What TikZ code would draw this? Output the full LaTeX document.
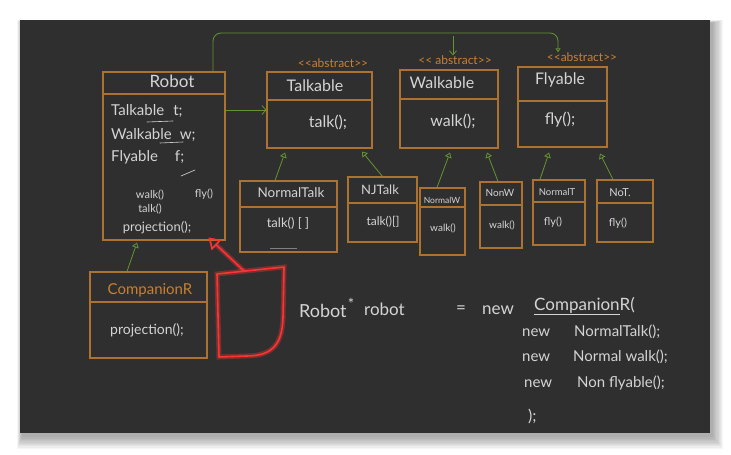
\documentclass[tikz,border=0pt]{standalone}
\usepackage{fontspec}
\setmainfont{Lato}
\usetikzlibrary{arrows.meta}
\definecolor{board}{RGB}{47,47,47}
\definecolor{boxor}{RGB}{172,114,50}
\definecolor{absor}{RGB}{200,128,52}
\definecolor{chalkw}{RGB}{212,212,212}
\definecolor{grn}{RGB}{100,148,50}
\definecolor{redc}{RGB}{255,50,50}
\newcommand{\fsz}[1]{\fontsize{#1}{#1}\selectfont}
\tikzset{
  umlbox/.style={draw=boxor, line width=1.1pt, inner sep=0pt, rectangle},
  hdr/.style={draw=boxor, line width=1.1pt},
  chalk/.style={text=chalkw, inner sep=0pt},
  abstr/.style={text=absor, inner sep=0pt, font=\fsz{12}},
  grnline/.style={draw=grn, line width=0.8pt},
  inh/.style={grnline, -{Triangle[open, length=5pt, width=7pt]}},
  redglow/.style={draw=redc, line width=1.6pt, line join=round, line cap=round,
     preaction={draw=redc, opacity=0.35, line width=5pt}},
  doodle/.style={draw=chalkw, line width=0.6pt, line cap=round}
}
\begin{document}
\begin{tikzpicture}[x=1pt, y=-1pt]
\useasboundingbox (0,0) rectangle (731,455);
\fill[white] (0,0) rectangle (731,455);
\foreach \i in {1,...,10}
  \fill[black, opacity=0.035] (20-\i*0.5+2, 20-\i*0.3+3) rectangle (710+\i*1.1+2, 433+\i*1.3+3);
\fill[board] (20,20) rectangle (710,433);

% ---------- boxes ----------
\node[umlbox, minimum width=122pt, minimum height=168pt] (robot) at (164,156) {};
\node[umlbox, minimum width=105pt, minimum height=76pt] (talkable) at (319.5,110) {};
\node[umlbox, minimum width=98pt, minimum height=78pt] (walkable) at (449,109) {};
\node[umlbox, minimum width=89pt, minimum height=80pt] (flyable) at (562.5,107) {};
\node[umlbox, minimum width=97pt, minimum height=71pt] (normaltalk) at (288.5,216.5) {};
\node[umlbox, minimum width=69pt, minimum height=65pt] (njtalk) at (382.5,209.5) {};
\node[umlbox, minimum width=45pt, minimum height=67pt] (normalw) at (442.5,221.5) {};
\node[umlbox, minimum width=42pt, minimum height=66pt] (nonw) at (501,215) {};
\node[umlbox, minimum width=52pt, minimum height=65pt] (normalt) at (559,212.5) {};
\node[umlbox, minimum width=56pt, minimum height=62pt] (not) at (625,211) {};
\node[umlbox, minimum width=117pt, minimum height=86pt] (companion) at (148.5,315) {};

% header lines
\draw[hdr] (robot.west |- 0,94) -- (robot.east |- 0,94);
\draw[hdr] (talkable.west |- 0,100) -- (talkable.east |- 0,100);
\draw[hdr] (walkable.west |- 0,99) -- (walkable.east |- 0,99);
\draw[hdr] (flyable.west |- 0,101) -- (flyable.east |- 0,101);
\draw[hdr] (normaltalk.west |- 0,207) -- (normaltalk.east |- 0,207);
\draw[hdr] (njtalk.west |- 0,203) -- (njtalk.east |- 0,203);
\draw[hdr] (normalw.west |- 0,207) -- (normalw.east |- 0,207);
\draw[hdr] (nonw.west |- 0,205) -- (nonw.east |- 0,205);
\draw[hdr] (normalt.west |- 0,202) -- (normalt.east |- 0,202);
\draw[hdr] (not.west |- 0,203) -- (not.east |- 0,203);
\draw[hdr] (companion.west |- 0,302) -- (companion.east |- 0,302);

% ---------- texts ----------
\node[chalk, font=\fsz{17}] (tRobot) at (172,81) {Robot};
\node[chalk, font=\fsz{15}, anchor=west] (rA1) at (111,111) {Talkable\hspace{9pt}t;};
\node[chalk, font=\fsz{15}, anchor=west] (rA2) at (111,135) {Walkable\hspace{8pt}w;};
\node[chalk, font=\fsz{15}, anchor=west] (rA3) at (111,157) {Flyable\hspace{17pt}f;};
\node[chalk, font=\fsz{11}] (rM1) at (150,195) {walk()};
\node[chalk, font=\fsz{11}] (rM2) at (204,194) {fly()};
\node[chalk, font=\fsz{11}] (rM3) at (150,209) {talk()};
\node[chalk, font=\fsz{13}] (rM4) at (157,228) {projection();};
\draw[doodle] (147,122) -- (173,121);
\draw[doodle] (160,143) -- (183,142);
\draw[doodle] (181,176) -- (195,170);

\node[abstr] (absT) at (333,63) {<{}<abstract>{}>};
\node[abstr] (absW) at (455,60) {<{}< abstract>{}>};
\node[abstr] (absF) at (582,57) {<{}<abstract>{}>};

\node[chalk, font=\fsz{16}] (tTalk) at (315,86) {Talkable};
\node[chalk, font=\fsz{16}] (mTalk) at (328,122) {talk();};
\node[chalk, font=\fsz{16}] (tWalk) at (442,83) {Walkable};
\node[chalk, font=\fsz{16}] (mWalk) at (453,121) {walk();};
\node[chalk, font=\fsz{16}] (tFly) at (560,80) {Flyable};
\node[chalk, font=\fsz{16}] (mFly) at (560,120) {fly();};

\node[chalk, font=\fsz{13.5}] (tNT) at (291,193) {NormalTalk};
\node[chalk, font=\fsz{13}] (mNT) at (288,223) {talk() [ ]};
\draw[draw=gray, line width=0.8pt] (270,248) -- (297,248);
\node[chalk, font=\fsz{13}] (tNJ) at (380,190) {NJTalk};
\node[chalk, font=\fsz{12}] (mNJ) at (383,222) {talk()[]};
\node[chalk, font=\fsz{8.5}] (tNW) at (442,200) {NormalW};
\node[chalk, font=\fsz{10}] (mNW) at (443,228) {walk()};
\node[chalk, font=\fsz{10}] (tNoW) at (500,193) {NonW};
\node[chalk, font=\fsz{10}] (mNoW) at (502,225) {walk()};
\node[chalk, font=\fsz{9.5}] (tNF) at (557,192) {NormalT};
\node[chalk, font=\fsz{11}] (mNF) at (553,222) {fly()};
\node[chalk, font=\fsz{11}] (tNoF) at (620,193) {NoT.};
\node[chalk, font=\fsz{11}] (mNoF) at (618,223) {fly()};

\node[text=absor, inner sep=0pt, font=\fsz{15}] (tComp) at (150,290) {CompanionR};
\node[chalk, font=\fsz{14}] (mComp) at (147,330) {projection();};

% ---------- connectors ----------
\draw[inh] ([xshift=-13.5pt]normaltalk.north) -- ([xshift=-34.5pt, yshift=-4pt]talkable.south);
\draw[inh] (njtalk.north) -- ([xshift=42.5pt, yshift=-3pt]talkable.south);
\draw[inh] ([xshift=-5.5pt]normalw.north) -- ([xshift=1pt, yshift=-4pt]walkable.south);
\draw[inh] ([xshift=-3pt]nonw.north) -- ([xshift=38pt, yshift=-4pt]walkable.south);
\draw[inh] ([xshift=-19pt]normalt.north) -- ([xshift=-13.5pt, yshift=-5pt]flyable.south);
\draw[inh] ([xshift=-12pt]not.north) -- ([xshift=37.5pt, yshift=-6pt]flyable.south);
\draw[inh] ([xshift=-21.5pt]companion.north) -- ([xshift=-27pt, yshift=-2pt]robot.south);

\draw[grnline, -{Straight Barb[length=4pt, width=9pt]}] (robot.east |- talkable.west) -- (talkable.west);

\coordinate (jr) at (558,33);
\coordinate (jw) at (453,36);
\draw[grnline, rounded corners=8pt, -{Triangle[open, length=4pt, width=5pt]}]
  ([xshift=49pt]robot.north) |- (jr) -- ([xshift=-24pt]absF.north);
\draw[grnline, -{Straight Barb[length=4pt, width=7pt]}] (jw) -- ([xshift=-2pt]absW.north);

% ---------- red pointer ----------
\draw[redglow] (217,274) -- (284,267) -- (283,318)
   .. controls (282,345) and (272,356) .. (246,356) -- (219,357) -- cycle;
\coordinate (ptop) at (244,271);
\draw[redglow, -{Triangle[open, length=11pt, width=14pt, line width=1.6pt]}]
  (ptop) -- ([xshift=-17pt, yshift=3pt]robot.south east);

% ---------- code text ----------
\node[chalk, font=\fsz{18}, anchor=west] (c1) at (299,311) {Robot};
\node[chalk, font=\fsz{15}] (c2) at (351,304) {*};
\node[chalk, font=\fsz{17}, anchor=west] (c3) at (364,309) {robot};
\node[chalk, font=\fsz{17}] (c4) at (461,310) {=};
\node[chalk, font=\fsz{17}, anchor=west] (c5) at (482,310) {new};
\node[chalk, font=\fsz{17}, anchor=west] (c6) at (534,306) {\underline{Companion}R(};
\node[chalk, font=\fsz{15}, anchor=west] (c7) at (522,333) {new};
\node[chalk, font=\fsz{15}, anchor=west] (c8) at (574,332) {NormalTalk();};
\node[chalk, font=\fsz{15}, anchor=west] (c9) at (522,358) {new};
\node[chalk, font=\fsz{15}, anchor=west] (c10) at (573,357) {Normal walk();};
\node[chalk, font=\fsz{15}, anchor=west] (c11) at (524,384) {new};
\node[chalk, font=\fsz{15}, anchor=west] (c12) at (577,383) {Non flyable();};
\node[chalk, font=\fsz{16}, anchor=west] (c13) at (528,416) {);};
\end{tikzpicture}
\end{document}
